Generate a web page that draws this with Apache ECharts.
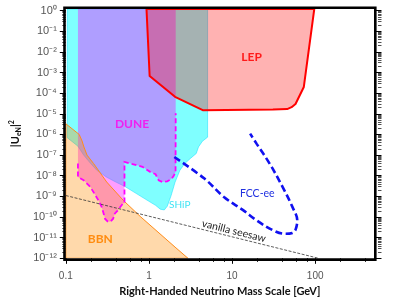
<!DOCTYPE html>
<html><head><meta charset="utf-8">
<script src="https://cdn.jsdelivr.net/npm/echarts@6/dist/echarts.min.js"></script>
<style>html,body{margin:0;padding:0;background:#fff}#c{width:412px;height:306px}</style>
</head><body><div id="c"></div>
<script>
// ---------- axes ----------
const X_MIN = 0.1, X_MAX = 510, Y_MIN = 1e-12, Y_MAX = 1.2;
const xMajorTicks = [0.1, 1, 10, 100];
const xTickLabels = ['0.1', '1', '10', '100'];
const xMinorTicks = [0.2, 0.4, 0.6, 0.8, 2, 4, 6, 8, 20, 40, 60, 80, 200, 400];
const yMajorTicks = [1, 1e-1, 1e-2, 1e-3, 1e-4, 1e-5, 1e-6, 1e-7, 1e-8, 1e-9, 1e-10, 1e-11, 1e-12];
const yTickLabels = ['10⁰','10⁻¹','10⁻²','10⁻³','10⁻⁴','10⁻⁵','10⁻⁶','10⁻⁷','10⁻⁸','10⁻⁹','10⁻¹⁰','10⁻¹¹','10⁻¹²'];
const yMinorMultipliers = [2, 3, 4, 5, 6, 7, 8, 9];
const yMinorTicks = yMajorTicks.slice(1).flatMap(p => yMinorMultipliers.map(k => k * p));

// ---------- regions (mass [GeV], |U|^2) ----------
const shipMass = [0.104, 0.104, 0.14, 0.164, 0.197, 0.236, 0.31, 0.406, 0.508, 0.70, 0.914, 1.2, 1.37, 1.53, 1.66, 1.85, 2.06, 2.36, 2.70, 3.18, 3.71, 3.95, 4.4, 5.08, 5.08];
const shipU2   = [Y_MAX, 7e-7, 2.7e-7, 1.0e-7, 4.1e-8, 1.85e-8, 8.5e-9, 4.8e-9, 3.1e-9, 1.4e-9, 7.2e-10, 3.7e-10, 2.4e-10, 2.2e-10, 3.3e-10, 1.1e-9, 4.8e-9, 1.85e-8, 3.9e-8, 7.1e-8, 1.2e-7, 2.5e-7, 4.7e-7, 7.4e-7, Y_MAX];

const duneEdgeMass = [0.14, 0.14, 0.164, 0.197, 0.243, 0.27, 0.285, 0.296, 0.318, 0.343, 0.371, 0.39, 0.417, 0.486, 0.508, 0.508, 0.836, 1.047, 1.2, 1.31, 1.45, 1.66, 1.85, 1.98, 2.09, 2.1];
const duneEdgeU2   = [3.9e-8, 8.7e-9, 6.0e-9, 2.9e-9, 7.2e-10, 3.1e-10, 1.5e-10, 8.3e-11, 6.2e-11, 5.9e-11, 8.3e-11, 1.5e-10, 2.0e-10, 4.5e-10, 4.6e-10, 4.7e-8, 2.7e-8, 1.5e-8, 1.2e-8, 6.0e-9, 5.0e-9, 5.4e-9, 6.8e-9, 9.6e-9, 1.5e-8, 1.08e-5];

const lepMass = [0.935, 1.02, 2.06, 4.44, 31, 46, 52, 58, 73, 97.5];
const lepU2   = [Y_MAX, 6.8e-4, 6.7e-5, 1.5e-5, 1.6e-5, 1.7e-5, 2.1e-5, 3.0e-5, 2.0e-4, Y_MAX];

const bbnMass = [0.1, 0.145, 0.157, 0.165, 0.18, 0.216, 0.31, 0.49, 0.8, 2.06, 2.95, 0.1];
const bbnU2   = [3.3e-6, 1.0e-6, 4.8e-7, 2.5e-7, 1.0e-7, 3.9e-8, 5e-9, 6.5e-10, 1e-10, 3.5e-12, 1e-12, 1e-12];

const fccMass = [2.02, 4.65, 7.98, 13.7, 19.7, 30.9, 42.5, 53.2, 58.2, 60.9, 53.2, 40.5, 28.3, 19.7, 16.5];
const fccU2   = [8.1e-8, 7.3e-9, 9.3e-10, 2.1e-10, 6.9e-11, 2.3e-11, 1.55e-11, 1.7e-11, 2.5e-11, 6.9e-11, 3.1e-10, 2.9e-9, 3.9e-8, 3.6e-7, 1.1e-6];

const seesawMass = [0.1, 110];
const seesawU2   = [1.1e-9, 1e-12];

// annotations (text, anchor in data space)
const annText = ['LEP', 'DUNE', 'BBN', 'SHiP', 'FCC-ee'];
const annMass = [17.2, 0.626, 0.26, 2.35, 20.1];
const annU2   = [5.9e-3, 3.1e-6, 8.9e-12, 4.1e-10, 1.4e-9];
const seesawLabel = 'vanilla seesaw', seesawLabelMass = 10.5, seesawLabelU2 = 2.1e-11;

const zip = (a, b) => a.map((v, i) => [v, b[i]]);

function polySeries(name, mass, u2, style, closed) {
  return {
    type: 'custom', name, coordinateSystem: 'cartesian2d', xAxisIndex: 0, yAxisIndex: 0,
    clip: true, silent: true, animation: false,
    data: zip(mass, u2),
    renderItem(params, api) {
      if (params.dataIndexInside !== 0) return null;
      const n = params.dataInsideLength, pts = [];
      for (let i = 0; i < n; i++) pts.push(api.coord([api.value(0, i), api.value(1, i)]));
      return { type: closed ? 'polygon' : 'polyline', shape: { points: pts }, style: Object.assign({}, style, closed ? {} : { fill: null }) };
    }
  };
}
const duneFillMass = [0.14].concat(duneEdgeMass, [2.1]);
const duneFillU2 = [Y_MAX].concat(duneEdgeU2, [Y_MAX]);

const nearest = (arr, v) => { let b = 0, bd = Infinity; arr.forEach((a, i) => { const d = Math.abs(Math.log10(a) - Math.log10(v)); if (d < bd) { bd = d; b = i; } }); return b; };

const GRID = { left: 58.3, top: 9, width: 315.7, height: 249.3 };
const chart = echarts.init(document.getElementById('c'), null, { renderer: 'canvas' });
const tickFont = 'Liberation Sans';
const baseLog = { type: 'log', logBase: 10, min: X_MIN, max: X_MAX, gridIndex: 0, splitLine: { show: false }, axisLine: { show: false } };
const baseLogY = { type: 'log', logBase: 10, min: Y_MIN, max: Y_MAX, gridIndex: 0, splitLine: { show: false }, axisLine: { show: false } };

chart.setOption({
  animation: false,
  backgroundColor: '#fff',
  grid: Object.assign({ containLabel: false }, GRID),
  xAxis: [
    Object.assign({}, baseLog, {
      position: 'bottom',
      axisTick: { show: true, length: 5.5, customValues: xMajorTicks, lineStyle: { color: '#000', width: 1 } },
      axisLabel: { show: true, customValues: xMajorTicks, formatter: v => xTickLabels[nearest(xMajorTicks, v)], margin: 13, color: '#555', fontSize: 10, fontFamily: tickFont },
      name: 'Right-Handed Neutrino Mass Scale [GeV]', nameLocation: 'middle', nameGap: 28,
      nameTextStyle: { fontFamily: 'Lato', fontWeight: 'bold', fontSize: 11, color: '#111' }
    }),
    Object.assign({}, baseLog, {
      position: 'bottom',
      axisTick: { show: true, length: 3.5, customValues: xMinorTicks, lineStyle: { color: '#000', width: 1 } },
      axisLabel: { show: false }
    })
  ],
  yAxis: [
    Object.assign({}, baseLogY, {
      position: 'left',
      axisTick: { show: true, length: 6, customValues: yMajorTicks, lineStyle: { color: '#000', width: 1 } },
      axisLabel: { show: true, customValues: yMajorTicks, formatter: v => yTickLabels[nearest(yMajorTicks, v)], margin: 9, color: '#555', fontSize: 11, fontFamily: tickFont },
      name: '{a||U}{s|eN}{a||}{p|2}', nameLocation: 'middle', nameGap: 40,
      nameTextStyle: { color: '#111', rich: {
        a: { fontFamily: 'Lato', fontWeight: 'bold', fontSize: 11, lineHeight: 14 },
        s: { fontFamily: 'Lato', fontWeight: 'bold', fontSize: 7, lineHeight: 14, verticalAlign: 'bottom' },
        p: { fontFamily: 'Lato', fontWeight: 'bold', fontSize: 7, lineHeight: 14, verticalAlign: 'top' } } }
    }),
    Object.assign({}, baseLogY, {
      position: 'left',
      axisTick: { show: true, length: 3.5, customValues: yMinorTicks, lineStyle: { color: '#222', width: 0.8 } },
      axisLabel: { show: false }
    }),
    // right-hand ticks, pointing into the plot: left-positioned axes shifted to the right edge
    Object.assign({}, baseLogY, {
      position: 'left', offset: -GRID.width,
      axisTick: { show: true, length: 6, customValues: yMajorTicks, lineStyle: { color: '#000', width: 1 } },
      axisLabel: { show: false }
    }),
    Object.assign({}, baseLogY, {
      position: 'left', offset: -GRID.width,
      axisTick: { show: true, length: 3.5, customValues: yMinorTicks, lineStyle: { color: '#222', width: 0.8 } },
      axisLabel: { show: false }
    })
  ],
  series: [
    polySeries('SHiP', shipMass, shipU2, { fill: 'rgba(0,255,255,0.5)', stroke: 'rgba(0,220,255,0.6)', lineWidth: 0.8 }, true),
    polySeries('DUNE', duneFillMass, duneFillU2, { fill: 'rgba(255,0,255,0.38)', stroke: null }, true),
    polySeries('LEP', lepMass, lepU2, { fill: 'rgba(255,0,0,0.3)', stroke: '#ff0000', lineWidth: 2, lineJoin: 'round' }, true),
    polySeries('BBN', bbnMass, bbnU2, { fill: 'rgba(255,140,0,0.33)', stroke: '#ff8c1a', lineWidth: 1 }, true),
    polySeries('DUNE edge', duneEdgeMass, duneEdgeU2, { stroke: '#ff00ff', lineWidth: 1.8, lineDash: [5, 3] }, false),
    { type: 'line', name: 'seesaw', xAxisIndex: 0, yAxisIndex: 0, data: zip(seesawMass, seesawU2), symbol: 'none', silent: true,
      lineStyle: { color: '#333', width: 0.8, type: [3, 1.5] } },
    { type: 'line', name: 'FCC-ee', xAxisIndex: 0, yAxisIndex: 0, data: zip(fccMass, fccU2), symbol: 'none', smooth: 0.35, silent: true,
      lineStyle: { color: '#1010f0', width: 2.6, type: [7, 3.5] } }
  ]
});

// frame + annotations
const P = (m, u) => chart.convertToPixel({ xAxisIndex: 0, yAxisIndex: 0 }, [m, u]);
const tl = P(X_MIN, Y_MAX), br = P(X_MAX, Y_MIN);
const annStyle = [
  { fill: '#ff1a1a', font: 'bold 12px Lato' },
  { fill: '#f020f0', font: 'bold 12px Lato' },
  { fill: '#ff8c10', font: 'bold 12px Lato' },
  { fill: '#40e4f4', font: '10px Lato' },
  { fill: '#2030e0', font: '10.5px Lato' }
];
const graphics = annText.map((t, i) => {
  const p = P(annMass[i], annU2[i]);
  return { type: 'text', x: p[0], y: p[1], z: 50, silent: true,
    style: Object.assign({ text: t, align: 'center', verticalAlign: 'middle' }, annStyle[i]) };
});
const s0 = P(seesawMass[0], seesawU2[0]), s1 = P(seesawMass[1], seesawU2[1]);
const ang = Math.atan2(s1[1] - s0[1], s1[0] - s0[0]);
const sp = P(seesawLabelMass, seesawLabelU2);
graphics.push({ type: 'text', x: sp[0], y: sp[1], rotation: -ang, z: 50, silent: true,
  style: { text: seesawLabel, align: 'center', verticalAlign: 'middle', fill: '#222', font: '10.5px Lato' } });
const fw = 2.6;
graphics.push({ type: 'rect', z: 100, silent: true,
  shape: { x: tl[0] - fw / 2, y: tl[1] - fw / 2, width: br[0] - tl[0] + fw, height: br[1] - tl[1] + fw },
  style: { fill: null, stroke: '#000', lineWidth: fw } });
chart.setOption({ graphic: graphics });
</script>
</body></html>
